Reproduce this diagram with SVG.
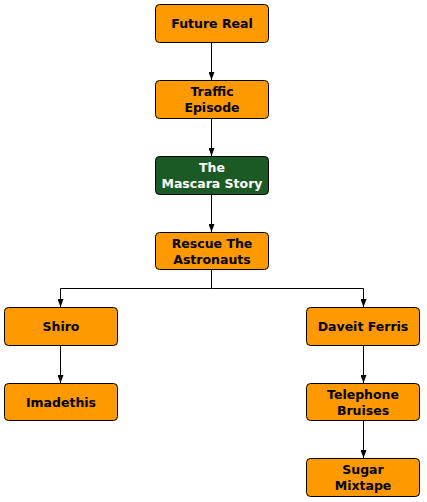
<svg xmlns="http://www.w3.org/2000/svg" width="427" height="502" viewBox="0 0 427 502">
<defs>
<marker id="ah" viewBox="0 0 8 6" refX="8" refY="3" markerWidth="8" markerHeight="6" orient="auto" markerUnits="userSpaceOnUse">
<path d="M0,0 L8,3 L0,6 Z" fill="#000"/>
</marker>
<style>
.box{fill:#FF9900;stroke:#000;stroke-width:1}
.dark{fill:#1B5A24;stroke:#000;stroke-width:1}
.t{font-family:"DejaVu Sans",Verdana,sans-serif;font-weight:bold;font-size:12.5px;text-anchor:middle;fill:#000}
.w{fill:#fff}
.c{fill:none;stroke:#000;stroke-width:1}
</style>
</defs>
<rect width="427" height="502" fill="#fff"/>
<g id="connectors">
<path class="c" d="M211.5,42.5 V80" marker-end="url(#ah)"/>
<path class="c" d="M211.5,118.5 V156" marker-end="url(#ah)"/>
<path class="c" d="M211.5,194.5 V232" marker-end="url(#ah)"/>
<path class="c" d="M211.5,269.5 V288.5 H60.5 V307" marker-end="url(#ah)"/>
<path class="c" d="M211.5,288.5 H363.5 V307" marker-end="url(#ah)"/>
<path class="c" d="M60.5,345.5 V383" marker-end="url(#ah)"/>
<path class="c" d="M363.5,345.5 V383" marker-end="url(#ah)"/>
<path class="c" d="M363.5,420.5 V458" marker-end="url(#ah)"/>
</g>
<g id="future-real">
<rect class="box" x="155.5" y="4.5" width="113" height="38" rx="4"/>
<text class="t" x="212" y="28">Future Real</text>
</g>
<g id="traffic-episode">
<rect class="box" x="155.5" y="80.5" width="113" height="38" rx="4"/>
<text class="t" x="212" y="95.5">Traffic</text>
<text class="t" x="212" y="111.5">Episode</text>
</g>
<g id="mascara-story">
<rect class="dark" x="155.5" y="156.5" width="113" height="38" rx="4"/>
<text class="t w" x="212" y="171.5">The</text>
<text class="t w" x="212" y="187.5">Mascara Story</text>
</g>
<g id="rescue-astronauts">
<rect class="box" x="155.5" y="232.5" width="113" height="37" rx="4"/>
<text class="t" x="212" y="247.5">Rescue The</text>
<text class="t" x="212" y="263.5">Astronauts</text>
</g>
<g id="shiro">
<rect class="box" x="4.5" y="307.5" width="113" height="38" rx="4"/>
<text class="t" x="61" y="331">Shiro</text>
</g>
<g id="imadethis">
<rect class="box" x="4.5" y="383.5" width="113" height="37" rx="4"/>
<text class="t" x="61" y="406.5">Imadethis</text>
</g>
<g id="daveit-ferris">
<rect class="box" x="306.5" y="307.5" width="113" height="38" rx="4"/>
<text class="t" x="363" y="331">Daveit Ferris</text>
</g>
<g id="telephone-bruises">
<rect class="box" x="306.5" y="383.5" width="113" height="37" rx="4"/>
<text class="t" x="363" y="398.5">Telephone</text>
<text class="t" x="363" y="414.5">Bruises</text>
</g>
<g id="sugar-mixtape">
<rect class="box" x="306.5" y="458.5" width="113" height="38" rx="4"/>
<text class="t" x="363" y="474">Sugar</text>
<text class="t" x="363" y="490">Mixtape</text>
</g>
</svg>
